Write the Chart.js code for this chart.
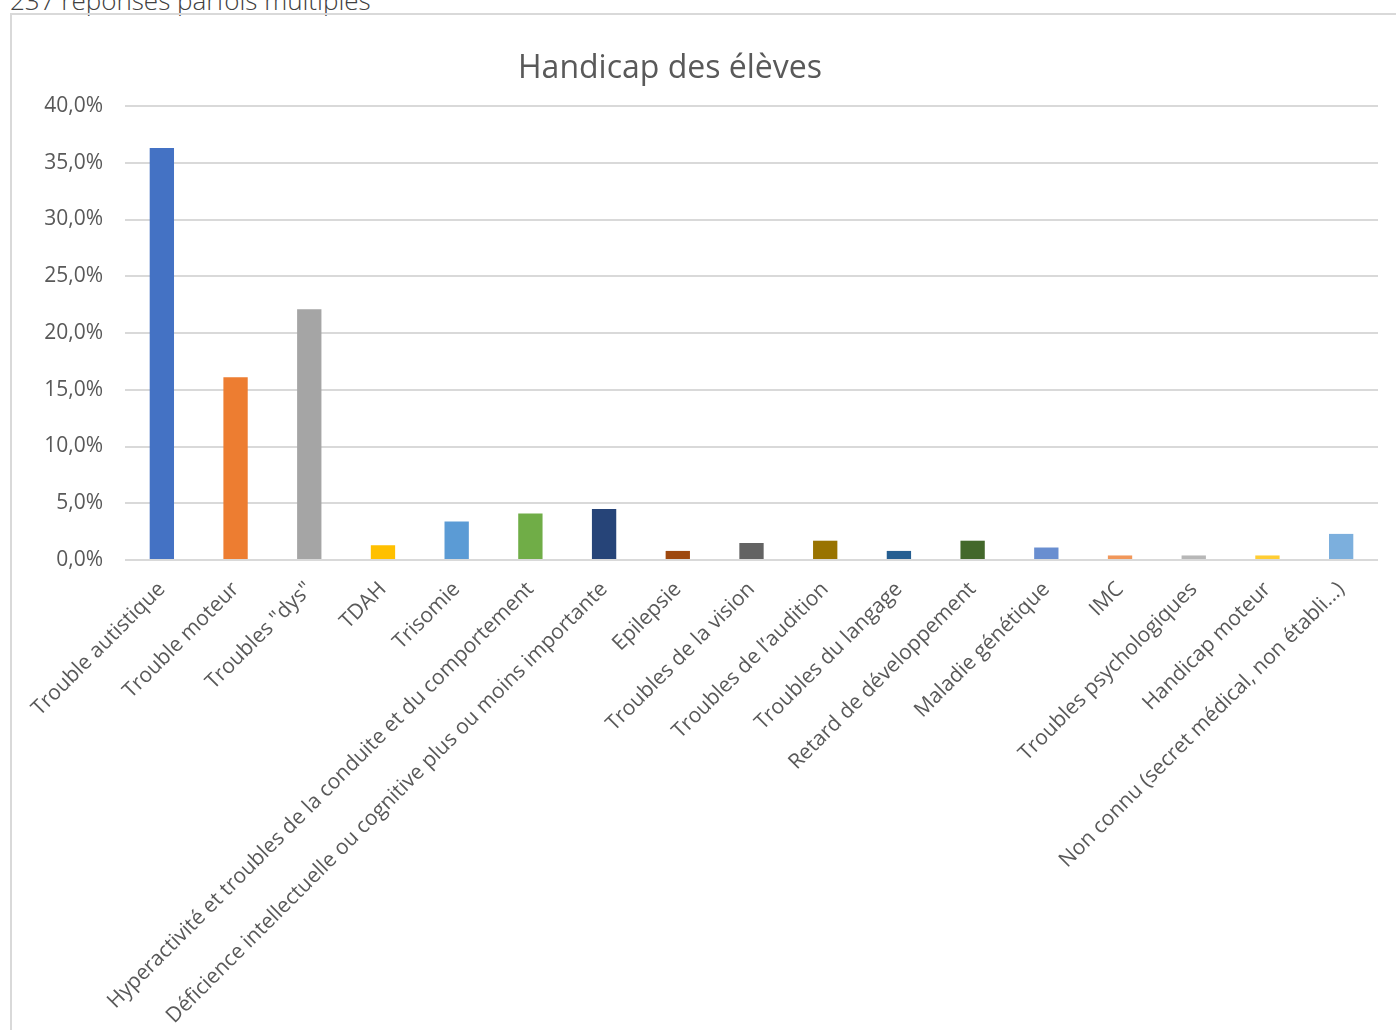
<!doctype html>
<html>

<head>
  <meta charset="utf-8">
  <title>Handicap des élèves</title>
  <script src="https://cdn.jsdelivr.net/npm/chart.js@4.4.1/dist/chart.umd.min.js"></script>
  <style>
    body {
      margin: 0;
      width: 1396px;
      height: 1030px;
      overflow: hidden;
      background: #fff;
      position: relative;
      font-family: "Open Sans", sans-serif;
    }
    .note {
      position: absolute;
      left: 10px;
      top: -13px;
      font-size: 26px;
      line-height: 26px;
      color: #404040;
      font-weight: 300;
    }
    .frame {
      position: absolute;
      left: 10px;
      top: 13px;
      right: -10px;
      bottom: -10px;
      border: 2px solid #d9d9d9;
    }
    canvas {
      position: absolute;
      left: 0;
      top: 0;
    }
  </style>
</head>

<body>
  <div class="note">237 réponses parfois multiples</div>
  <div class="frame"></div>
  <canvas id="myChart" width="1396" height="1030"></canvas>

  <script>
    var title = 'Handicap des élèves';

    var categories = [
      'Trouble autistique',
      'Trouble moteur',
      'Troubles "dys"',
      'TDAH',
      'Trisomie',
      'Hyperactivité et troubles de la conduite et du comportement',
      'Déficience intellectuelle ou cognitive plus ou moins importante',
      'Epilepsie',
      'Troubles de la vision',
      'Troubles de l’audition',
      'Troubles du langage',
      'Retard de développement',
      'Maladie génétique',
      'IMC',
      'Troubles psychologiques',
      'Handicap moteur',
      'Non connu (secret médical, non établi...)'
    ];

    // share of answers, in percent
    var shares = [36.3, 16.1, 22.1, 1.3, 3.4, 4.1, 4.5, 0.8, 1.5, 1.7, 0.8, 1.7, 1.1, 0.4, 0.4, 0.4, 2.3];

    var barColors = [
      '#4472C4', '#ED7D31', '#A5A5A5', '#FFC000', '#5B9BD5', '#70AD47',
      '#264478', '#9E480E', '#636363', '#997300', '#255E91', '#43682B',
      '#698ED0', '#F1975A', '#B7B7B7', '#FFCD33', '#7CAFDD'
    ];

    var yTicks = [0, 5, 10, 15, 20, 25, 30, 35, 40];

    function pct(v) {
      return v.toFixed(1).replace('.', ',') + '%';
    }

    // chart title, drawn a little left of the plot centre
    var titlePlugin = {
      id: 'titleText',
      afterDraw: function(chart) {
        var ctx = chart.ctx;
        ctx.save();
        ctx.font = '32px "Open Sans"';
        ctx.fillStyle = '#595959';
        ctx.textAlign = 'center';
        ctx.textBaseline = 'middle';
        ctx.fillText(title, 670, 69);
        ctx.restore();
      }
    };

    var config = {
      type: 'bar',
      data: {
        labels: categories,
        datasets: [{
          data: shares,
          backgroundColor: barColors,
          categoryPercentage: 1,
          barPercentage: 0.33
        }]
      },
      options: {
        responsive: false,
        animation: false,
        layout: {
          padding: { top: 106, right: 18, left: 0, bottom: 0 }
        },
        plugins: {
          legend: { display: false },
          tooltip: { enabled: false }
        },
        scales: {
          x: {
            grid: { display: false, drawTicks: false },
            border: { display: false },
            ticks: {
              autoSkip: false,
              maxRotation: 45,
              minRotation: 45,
              padding: 17,
              color: '#595959',
              font: { family: '"Open Sans"', size: 21 }
            },
            afterFit: function(scale) {
              scale.height = 470;
            }
          },
          y: {
            min: 0,
            max: 40,
            afterBuildTicks: function(scale) {
              scale.ticks = yTicks.map(function(v) { return { value: v }; });
            },
            grid: { color: '#d9d9d9', lineWidth: 2, drawTicks: false },
            border: { display: false },
            ticks: {
              padding: 22,
              color: '#595959',
              font: { family: '"Open Sans"', size: 21 },
              callback: function(v) { return pct(v); }
            },
            afterFit: function(scale) {
              scale.width = 125;
            }
          }
        }
      },
      plugins: [titlePlugin]
    };

    window.onload = function() {
      var ctx = document.getElementById('myChart').getContext('2d');
      window.myChart = new Chart(ctx, config);
    };
  </script>
</body>

</html>
